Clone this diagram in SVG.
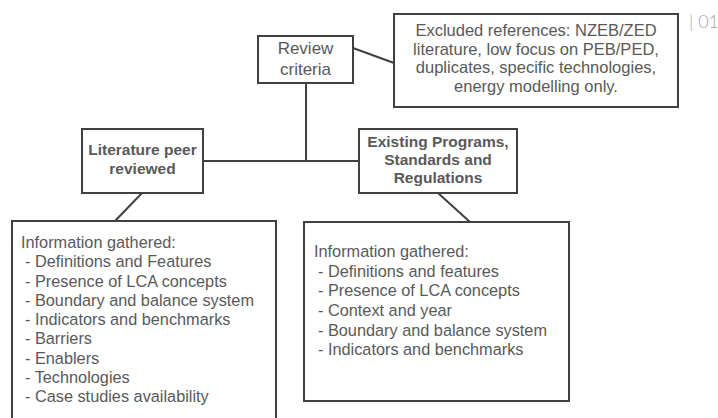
<svg xmlns="http://www.w3.org/2000/svg" width="718" height="418" viewBox="0 0 718 418">
<style>
.box{fill:#fff;stroke:#404040;stroke-width:2}
.ln{fill:none;stroke:#404040;stroke-width:2}
.t{font-family:"Liberation Sans",Arial,sans-serif;fill:#595959}
.c{text-anchor:middle;font-size:17px}
.e{text-anchor:middle;font-size:16.5px}
.b{text-anchor:middle;font-size:15.5px;font-weight:bold}
.i{font-size:16.3px}
</style>
<rect width="718" height="418" fill="#fff"/>
<g id="connectors">
<line class="ln" x1="353" y1="48" x2="394" y2="63"/>
<line class="ln" x1="306" y1="83" x2="306" y2="162"/>
<line class="ln" x1="203" y1="161" x2="359" y2="161"/>
<line class="ln" x1="142" y1="193" x2="115" y2="221"/>
<line class="ln" x1="438" y1="193" x2="470" y2="222"/>
</g>
<g id="review">
<rect class="box" x="258" y="36" width="95" height="47"/>
<text class="t c" x="305.5" y="54">Review</text>
<text class="t c" x="305.5" y="75">criteria</text>
</g>
<g id="excluded">
<rect class="box" x="394" y="14" width="284" height="93"/>
<text class="t e" x="536" y="36">Excluded references: NZEB/ZED</text>
<text class="t e" x="536" y="55">literature, low focus on PEB/PED,</text>
<text class="t e" x="536" y="73">duplicates, specific technologies,</text>
<text class="t e" x="536" y="92">energy modelling only.</text>
</g>
<g id="literature">
<rect class="box" x="82" y="129" width="121" height="64"/>
<text class="t b" x="142.5" y="155">Literature peer</text>
<text class="t b" x="142.5" y="174">reviewed</text>
</g>
<g id="existing">
<rect class="box" x="359" y="129" width="158" height="64"/>
<text class="t b" x="438" y="147">Existing Programs,</text>
<text class="t b" x="438" y="165">Standards and</text>
<text class="t b" x="438" y="183">Regulations</text>
</g>
<g id="info-left">
<rect class="box" x="12" y="221" width="264" height="210"/>
<text class="t i" x="21" y="248">Information gathered:</text>
<text class="t i" x="25" y="267">- Definitions and Features</text>
<text class="t i" x="25" y="286.5">- Presence of LCA concepts</text>
<text class="t i" x="25" y="306">- Boundary and balance system</text>
<text class="t i" x="25" y="325">- Indicators and benchmarks</text>
<text class="t i" x="25" y="344">- Barriers</text>
<text class="t i" x="25" y="363.5">- Enablers</text>
<text class="t i" x="25" y="383">- Technologies</text>
<text class="t i" x="25" y="402">- Case studies availability</text>
</g>
<g id="info-right">
<rect class="box" x="304" y="222" width="265" height="179"/>
<text class="t i" x="314" y="257">Information gathered:</text>
<text class="t i" x="318" y="276.5">- Definitions and features</text>
<text class="t i" x="318" y="296">- Presence of LCA concepts</text>
<text class="t i" x="318" y="316">- Context and year</text>
<text class="t i" x="318" y="335.5">- Boundary and balance system</text>
<text class="t i" x="318" y="355">- Indicators and benchmarks</text>
</g>
<text x="689" y="28" font-family="Lato,'Liberation Sans',sans-serif" font-weight="300" font-size="18" fill="#a6a6a6">| 01</text>
</svg>
